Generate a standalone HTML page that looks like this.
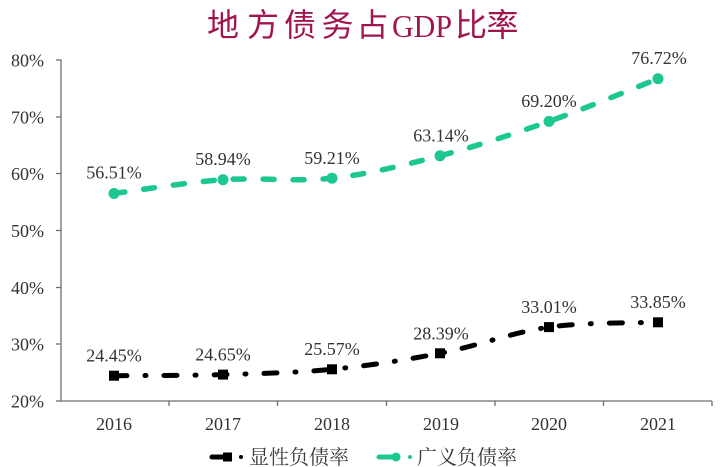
<!DOCTYPE html>
<html>
<head>
<meta charset="utf-8">
<style>
  html, body { margin:0; padding:0; background:#fff; }
  svg { display:block; }
  .lbl { font-family:"Liberation Serif","Noto Serif CJK SC",serif; font-size:18px; fill:#333; }
  .leg { font-family:"Liberation Serif","Noto Serif CJK SC",serif; font-size:20px; fill:#3a3a3a; }
  .ttl { font-family:"Liberation Sans","Noto Sans CJK SC",sans-serif; font-size:32px; fill:#a0154f; }
</style>
</head>
<body>
<svg width="726" height="467" viewBox="0 0 726 467" xmlns="http://www.w3.org/2000/svg">
  <rect width="726" height="467" fill="#fff"/>

  <!-- Title -->
  <g class="ttl" text-anchor="middle">
    <text x="223" y="36">地</text>
    <text x="263" y="36">方</text>
    <text x="300" y="36">债</text>
    <text x="337.5" y="36">务</text>
    <text x="372.5" y="36">占</text>
    <text x="392" y="37" text-anchor="start" textLength="60" lengthAdjust="spacingAndGlyphs" style="font-family:'Liberation Serif',serif;">GDP</text>
    <text x="471" y="36">比</text>
    <text x="502.5" y="36">率</text>
  </g>

  <!-- Axes -->
  <g stroke="#6e6e6e" stroke-width="1.3" fill="none">
    <line x1="61" y1="59.5" x2="61" y2="401"/>
    <line x1="61" y1="401" x2="712" y2="401"/>
    <line x1="56" y1="60" x2="61" y2="60"/>
    <line x1="56" y1="117" x2="61" y2="117"/>
    <line x1="56" y1="173.5" x2="61" y2="173.5"/>
    <line x1="56" y1="230.5" x2="61" y2="230.5"/>
    <line x1="56" y1="287.5" x2="61" y2="287.5"/>
    <line x1="56" y1="344" x2="61" y2="344"/>
    <line x1="56" y1="401" x2="61" y2="401"/>
    <line x1="169" y1="401" x2="169" y2="406"/>
    <line x1="277.5" y1="401" x2="277.5" y2="406"/>
    <line x1="386.5" y1="401" x2="386.5" y2="406"/>
    <line x1="495" y1="401" x2="495" y2="406"/>
    <line x1="603.5" y1="401" x2="603.5" y2="406"/>
    <line x1="712" y1="401" x2="712" y2="406"/>
  </g>

  <!-- Y labels -->
  <g class="lbl" text-anchor="end">
    <text x="44" y="66.5">80%</text>
    <text x="44" y="123.5">70%</text>
    <text x="44" y="180">60%</text>
    <text x="44" y="237">50%</text>
    <text x="44" y="294">40%</text>
    <text x="44" y="350.5">30%</text>
    <text x="44" y="407.5">20%</text>
  </g>

  <!-- X labels -->
  <g class="lbl" text-anchor="middle">
    <text x="114" y="430">2016</text>
    <text x="223" y="430">2017</text>
    <text x="332" y="430">2018</text>
    <text x="441" y="430">2019</text>
    <text x="549" y="430">2020</text>
    <text x="658" y="430">2021</text>
  </g>

  <!-- Green series -->
  <path d="M114,193.5 C132.2,191.2 186.7,182.25 223,179.7 C259.3,177.15 295.8,182.18 332,178.2 C368.2,174.22 403.8,165.27 440,155.8 C476.2,146.33 512.7,134.25 549,121.4 C585.3,108.55 639.8,85.8 658,78.7"
        fill="none" stroke="#1dc792" stroke-width="5.5" stroke-dasharray="11 19" stroke-linecap="round"/>
  <g fill="#1dc792">
    <circle cx="114" cy="193.5" r="5.5"/>
    <circle cx="223" cy="179.7" r="5.5"/>
    <circle cx="332" cy="178.2" r="5.5"/>
    <circle cx="440" cy="155.8" r="5.5"/>
    <circle cx="549" cy="121.4" r="5.5"/>
    <circle cx="658" cy="78.7" r="5.5"/>
  </g>

  <!-- Black series -->
  <path d="M114,375.7 C132.2,375.5 186.7,375.67 223,374.6 C259.3,373.53 295.8,372.85 332,369.3 C368.2,365.75 403.8,360.33 440,353.3 C476.2,346.27 512.7,332.27 549,327.1 C585.3,321.93 639.8,323.1 658,322.3"
        fill="none" stroke="#000" stroke-width="5" stroke-dasharray="13 18 1 18" stroke-linecap="round"/>
  <g fill="#000">
    <rect x="109" y="370.7" width="10" height="10"/>
    <rect x="218" y="369.6" width="10" height="10"/>
    <rect x="327" y="364.3" width="10" height="10"/>
    <rect x="435" y="348.3" width="10" height="10"/>
    <rect x="544" y="322.1" width="10" height="10"/>
    <rect x="653" y="317.3" width="10" height="10"/>
  </g>

  <!-- Data labels -->
  <g class="lbl" text-anchor="middle">
    <text x="114" y="178.5">56.51%</text>
    <text x="223" y="165">58.94%</text>
    <text x="332" y="164">59.21%</text>
    <text x="441" y="141.5">63.14%</text>
    <text x="549" y="107">69.20%</text>
    <text x="659" y="64">76.72%</text>

    <text x="114" y="361.5">24.45%</text>
    <text x="223" y="360.5">24.65%</text>
    <text x="332" y="355">25.57%</text>
    <text x="441" y="339.5">28.39%</text>
    <text x="549" y="313">33.01%</text>
    <text x="658" y="308">33.85%</text>
  </g>

  <!-- Legend -->
  <line x1="212" y1="457" x2="226" y2="457" stroke="#000" stroke-width="5" stroke-linecap="round"/>
  <rect x="223" y="452.5" width="9" height="9" fill="#000"/>
  <circle cx="241" cy="457" r="2" fill="#000"/>
  <text class="leg" x="249" y="464">显性负债率</text>

  <line x1="379" y1="457" x2="394" y2="457" stroke="#1dc792" stroke-width="5" stroke-linecap="round"/>
  <circle cx="396" cy="457" r="4.5" fill="#1dc792"/>
  <circle cx="410" cy="457" r="2" fill="#1dc792"/>
  <text class="leg" x="417" y="464">广义负债率</text>
</svg>
</body>
</html>
